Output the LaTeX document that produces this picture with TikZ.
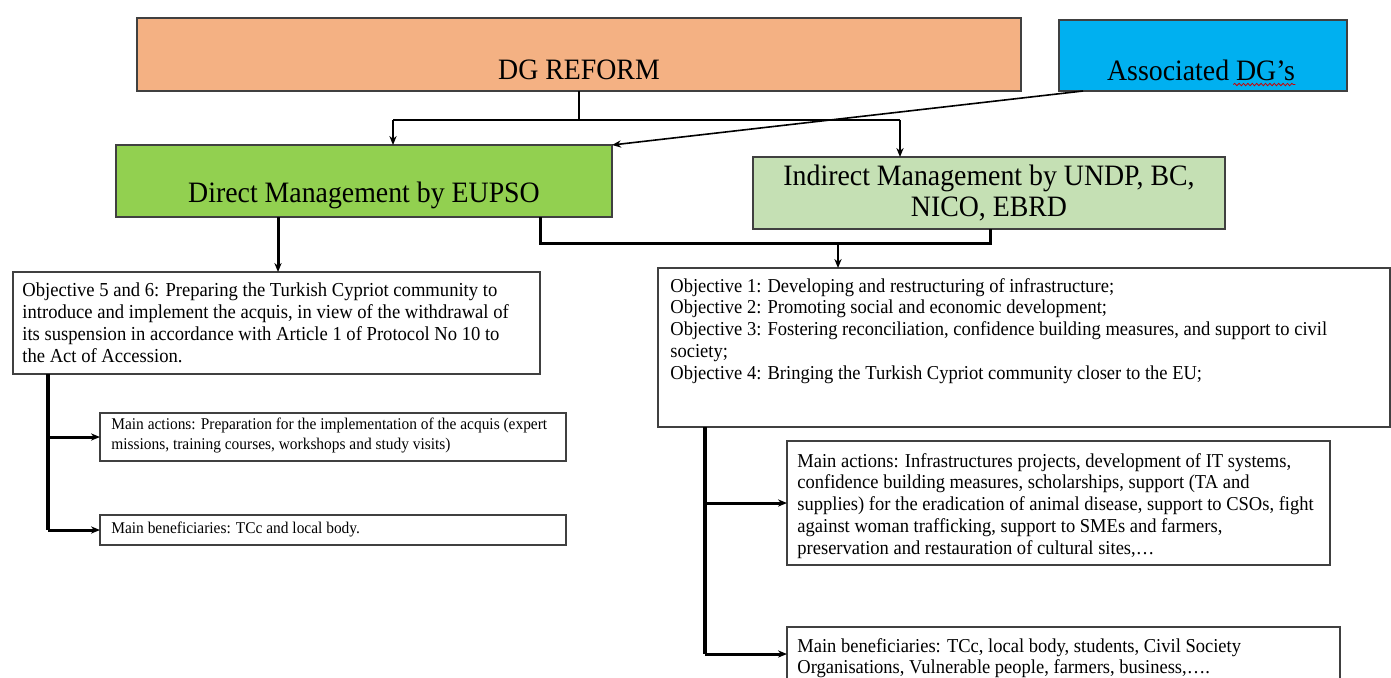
\documentclass[tikz,border=0pt]{standalone}
\usepackage{fontspec}
\setmainfont[FakeStretch=0.94]{Liberation Serif}
\usetikzlibrary{arrows.meta,decorations.pathmorphing}
\definecolor{reformfill}{HTML}{F4B183}
\definecolor{assocfill}{HTML}{00B0F0}
\definecolor{directfill}{HTML}{92D050}
\definecolor{indirectfill}{HTML}{C5E0B4}
\definecolor{edge}{HTML}{404040}
\begin{document}
\begin{tikzpicture}[x=0.5pt,y=-0.5pt,
  box/.style={draw=edge, line width=0.7pt, anchor=north west, inner sep=0pt, outer sep=0pt},
  big/.style={inner sep=0pt, font=\fontsize{14.8}{15.5}\selectfont},
  txtA/.style={anchor=north west, inner sep=0pt, align=left, font=\fontsize{9.9}{11}\selectfont},
  txtB/.style={anchor=north west, inner sep=0pt, align=left, font=\fontsize{9.85}{10.85}\selectfont},
  txtC/.style={anchor=north west, inner sep=0pt, align=left, font=\fontsize{8.2}{10}\selectfont},
  arr/.style={-{Stealth[length=4.5pt,width=3.6pt]}},
  spell/.style={draw=red!80!black, line width=0.4pt, decorate, decoration={snake, amplitude=0.6pt, segment length=2.2pt}}
]
\clip (0,0) rectangle (1391,677);
\fill[white] (0,0) rectangle (1391,677);

% top row
\node[box, fill=reformfill, minimum width=442pt, minimum height=36.5pt] (dg) at (137,18) {};
\node[big] (dgt) at (579,70) {DG REFORM};
\node[box, fill=assocfill, minimum width=144pt, minimum height=35.5pt] (assoc) at (1059,20) {};
\node[big] (assoct) at (1201,70) {Associated DG’s};
\draw[spell] ([xshift=-31pt,yshift=-2.2pt]assoct.base east) -- ([yshift=-2.2pt]assoct.base east);

% management boxes
\node[box, fill=directfill, minimum width=248pt, minimum height=36pt] (direct) at (116,145) {};
\node[big] (directt) at (364,195) {Direct Management by EUPSO};
\node[box, fill=indirectfill, minimum width=236pt, minimum height=36pt] (indirect) at (753,157) {};
\node[big, align=center] (indirectt) at (989,193) {Indirect Management by UNDP, BC,\\NICO, EBRD};

% objective boxes
\node[box, minimum width=263.5pt, minimum height=51pt] (obj56) at (13,272) {};
\node[txtA] (obj56t) at (22,282) {Objective 5 and 6: Preparing the Turkish Cypriot community to\\
introduce and implement the acquis, in view of the withdrawal of\\
its suspension in accordance with Article 1 of Protocol No 10 to\\
the Act of Accession.};

\node[box, minimum width=366pt, minimum height=79.5pt] (obj14) at (658,268) {};
\node[txtB] (obj14t) at (670,278) {Objective 1: Developing and restructuring of infrastructure;\\
Objective 2: Promoting social and economic development;\\
Objective 3: Fostering reconciliation, confidence building measures, and support to civil\\
society;\\
Objective 4: Bringing the Turkish Cypriot community closer to the EU;};

% actions and beneficiaries
\node[box, minimum width=233pt, minimum height=24pt] (actL) at (100,413) {};
\node[txtC] (actLt) at (111,418) {Main actions: Preparation for the implementation of the acquis (expert\\
missions, training courses, workshops and study visits)};
\node[box, minimum width=233pt, minimum height=15pt] (benL) at (100,515) {};
\node[txtC] (benLt) at (111,522) {Main beneficiaries: TCc and local body.};

\node[box, minimum width=271.5pt, minimum height=62pt] (actR) at (787,441) {};
\node[txtB] (actRt) at (797,453) {Main actions: Infrastructures projects, development of IT systems,\\
confidence building measures, scholarships, support (TA and\\
supplies) for the eradication of animal disease, support to CSOs, fight\\
against woman trafficking, support to SMEs and farmers,\\
preservation and restauration of cultural sites,…};
\node[box, minimum width=276.5pt, minimum height=40pt] (benR) at (787,627) {};
\node[txtB] (benRt) at (797,638) {Main beneficiaries: TCc, local body, students, Civil Society\\
Organisations, Vulnerable people, farmers, business,….};

% connectors from the top row
\coordinate (busL) at (393,120);
\coordinate (busR) at (900,120);
\draw[line width=0.8pt] (dg.south) -- (dg.south |- busL);
\draw[line width=1.3pt] (busL) -- (busR);
\draw[line width=1.3pt, arr] (busL) -- (busL |- direct.north);
\draw[line width=1.3pt, arr] (busR) -- (busR |- indirect.north);
\draw[line width=0.8pt, arr] ([xshift=12pt]assoc.south west) -- (direct.north east);

% connectors to the objectives
\draw[line width=1.5pt, arr] (direct.south -| 278,0) -- (obj56.north -| 278,0);
\coordinate (mergeL) at (540,243);
\coordinate (mergeR) at (990,243);
\coordinate (mergeM) at (838,243);
\draw[line width=1.5pt] (mergeL |- direct.south) -- (mergeL) -- (mergeR) -- (mergeR |- indirect.south);
\draw[line width=1.3pt, arr] (mergeM) -- (mergeM |- obj14.north);

% left trunk
\coordinate (trunkL) at (48,0);
\draw[line width=2pt] (trunkL |- obj56.south) -- (trunkL |- benL.west);
\draw[line width=1.5pt, arr] (trunkL |- actL.west) -- (actL.west);
\draw[line width=1.5pt, arr] (trunkL |- benL.west) -- (benL.west);

% right trunk
\coordinate (trunkR) at (705,0);
\coordinate (benRin) at (787,654);
\draw[line width=2pt] (trunkR |- obj14.south) -- (trunkR |- benRin);
\draw[line width=1.5pt, arr] (trunkR |- actR.west) -- (actR.west);
\draw[line width=1.5pt, arr] (trunkR |- benRin) -- (benRin);
\end{tikzpicture}
\end{document}
